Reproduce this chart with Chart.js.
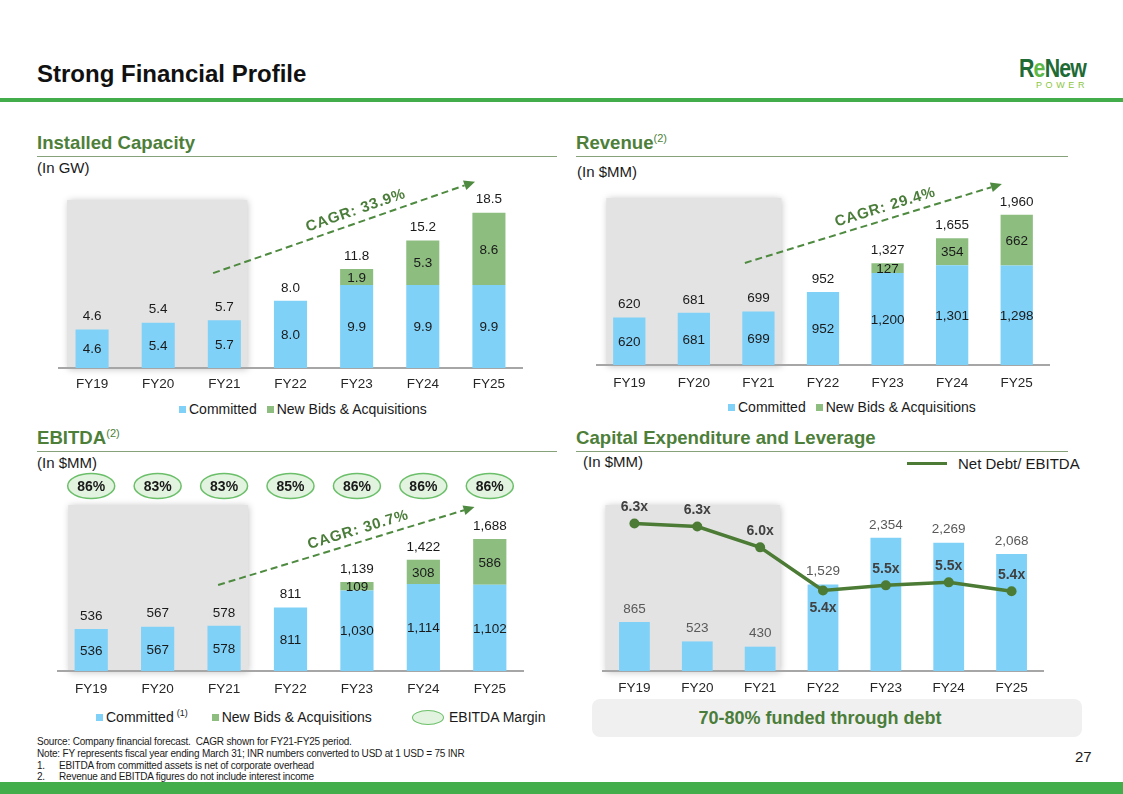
<!DOCTYPE html>
<html><head><meta charset="utf-8">
<script src="https://cdn.jsdelivr.net/npm/chart.js@4.4.1/dist/chart.umd.min.js"></script>
<style>
body{margin:0;background:#fff}
#page{position:relative;width:1123px;height:794px;background:#fff;font-family:'Liberation Sans',Arial,sans-serif;color:#1a1a1a;overflow:hidden}
.abs{position:absolute;white-space:nowrap}
canvas{position:absolute}
.sec{font-size:18.6px;font-weight:bold;color:#4d7f3a;line-height:22px}
.sec sup{font-size:11px;font-weight:normal;vertical-align:7px;line-height:0}
.rule{position:absolute;height:1px;background:#86a27a}
.unit{font-size:15px;line-height:16px}
.leg{font-size:14px;line-height:16px}
.sq{display:inline-block;width:7px;height:7px;margin-right:3px;vertical-align:1px}
.foot{font-size:10px;line-height:12px;color:#1a1a1a;letter-spacing:-0.2px}
</style></head>
<body><div id="page">
<div class="abs" style="left:37px;top:60px;font-size:24px;line-height:28px;font-weight:bold;color:#111">Strong Financial Profile</div>
<div class="abs" style="left:1019px;top:54px;font-size:26px;line-height:28px;font-weight:bold;color:#1f6b36;letter-spacing:-1px;transform:scaleX(0.82);transform-origin:left">R<span style="color:#5cb947">e</span>New</div>
<div class="abs" style="left:1036px;top:80px;font-size:9px;line-height:10px;color:#8cc63f;letter-spacing:3.6px">POWER</div>
<div style="position:absolute;left:0;top:98px;width:1123px;height:4px;background:#43ad4c"></div>

<div class="abs sec" style="left:37px;top:132px">Installed Capacity</div>
<div class="rule" style="left:37px;top:156px;width:520px"></div>
<div class="abs unit" style="left:37px;top:160px">(In GW)</div>

<div class="abs sec" style="left:576px;top:132px">Revenue<sup>(2)</sup></div>
<div class="rule" style="left:576px;top:156px;width:492px"></div>
<div class="abs unit" style="left:577px;top:164px">(In $MM)</div>

<div class="abs sec" style="left:37px;top:427px">EBITDA<sup>(2)</sup></div>
<div class="rule" style="left:37px;top:451px;width:520px"></div>
<div class="abs unit" style="left:37px;top:455px">(In $MM)</div>

<div class="abs sec" style="left:576px;top:427px">Capital Expenditure and Leverage</div>
<div class="rule" style="left:576px;top:451px;width:492px"></div>
<div class="abs unit" style="left:583px;top:454px">(In $MM)</div>

<canvas id="c1" width="487" height="228" style="left:47px;top:170px"></canvas>
<canvas id="c2" width="476" height="225" style="left:585px;top:170px"></canvas>
<canvas id="c3" width="489" height="235" style="left:46px;top:466px"></canvas>
<canvas id="c4" width="464" height="216" style="left:591px;top:485px"></canvas>

<div class="abs leg" style="left:179px;top:401px"><span class="sq" style="background:#80d1f8"></span>Committed<span style="display:inline-block;width:10px"></span><span class="sq" style="background:#8dbe80"></span>New Bids &amp; Acquisitions</div>
<div class="abs leg" style="left:728px;top:399px"><span class="sq" style="background:#80d1f8"></span>Committed<span style="display:inline-block;width:10px"></span><span class="sq" style="background:#8dbe80"></span>New Bids &amp; Acquisitions</div>
<div class="abs leg" style="left:96px;top:709px"><span class="sq" style="background:#80d1f8"></span>Committed<sup style="font-size:9px;vertical-align:6px;line-height:0;margin-left:3px">(1)</sup><span style="display:inline-block;width:24px"></span><span class="sq" style="background:#8dbe80"></span>New Bids &amp; Acquisitions</div>
<div style="position:absolute;left:412px;top:710px;width:30px;height:13px;border:1.5px solid #6cbf6a;border-radius:50%;background:#e2f4df"></div>
<div class="abs leg" style="left:449px;top:709px">EBITDA Margin</div>
<div style="position:absolute;left:907px;top:462px;width:40px;height:3px;background:#4b7b34"></div>
<div class="abs" style="left:958px;top:455px;font-size:15px;line-height:18px">Net Debt/ EBITDA</div>

<div style="position:absolute;left:592px;top:699px;width:490px;height:38px;border-radius:8px;background:#f0f0f0"></div>
<div class="abs" style="left:620px;top:707px;width:400px;text-align:center;font-size:18px;line-height:22px;font-weight:bold;color:#4b7d3a">70-80% funded through debt</div>

<div class="abs foot" style="left:37px;top:736px">Source: Company financial forecast.&nbsp; CAGR shown for FY21-FY25 period.</div>
<div class="abs foot" style="left:37px;top:748px">Note: FY represents fiscal year ending March 31; INR numbers converted to USD at 1 USD = 75 INR</div>
<div class="abs foot" style="left:37px;top:760px">1.</div><div class="abs foot" style="left:59px;top:760px">EBITDA from committed assets is net of corporate overhead</div>
<div class="abs foot" style="left:37px;top:771px">2.</div><div class="abs foot" style="left:59px;top:771px">Revenue and EBITDA figures do not include interest income</div>
<div class="abs" style="left:1075px;top:748px;font-size:15px;line-height:18px">27</div>
<div style="position:absolute;left:0;top:782px;width:1123px;height:12px;background:#43ad4c"></div>
</div>
<script>
const years = ['FY19','FY20','FY21','FY22','FY23','FY24','FY25'];
const capCommitted = [4.6,5.4,5.7,8.0,9.9,9.9,9.9];
const capNew = [0,0,0,0,1.9,5.3,8.6];
const revCommitted = [620,681,699,952,1200,1301,1298];
const revNew = [0,0,0,0,127,354,662];
const ebitdaCommitted = [536,567,578,811,1030,1114,1102];
const ebitdaNew = [0,0,0,0,109,308,586];
const ebitdaMargin = [86,83,83,85,86,86,86];
const capex = [865,523,430,1529,2354,2269,2068];
const netDebtEbitda = [6.3,6.26,5.98,5.4,5.47,5.51,5.39];
const cagrCap = 'CAGR: 33.9%';
const cagrRev = 'CAGR: 29.4%';
const cagrEbitda = 'CAGR: 30.7%';

const FAM = "'Liberation Sans', Arial, sans-serif";
Chart.defaults.font.family = FAM;
const BLUE = '#80d1f8', GREEN = '#8dbe80';
const fmt1 = v => v.toFixed(1);
const fmtC = v => String(Math.round(v)).replace(/\B(?=(\d{3})+(?!\d))/g, ',');

const deco = {
  id: 'deco',
  beforeDraw(chart, args, o) {
    if (!o.box) return;
    const x = chart.scales.x, ca = chart.chartArea, ctx = chart.ctx;
    const l = x.getPixelForValue(0) - o.box.l, r = x.getPixelForValue(2) + o.box.r, t = ca.top + o.box.t;
    ctx.save();
    ctx.shadowColor = 'rgba(0,0,0,0.25)'; ctx.shadowBlur = 7; ctx.shadowOffsetX = 1; ctx.shadowOffsetY = 1;
    ctx.fillStyle = '#e3e3e3';
    ctx.fillRect(l, t, r - l, ca.bottom - t);
    ctx.restore();
  },
  afterDatasetsDraw(chart, args, o) {
    const ctx = chart.ctx, ca = chart.chartArea, xs = chart.scales.x, ys = chart.scales.y;
    ctx.save();
    ctx.textAlign = 'center'; ctx.textBaseline = 'middle';
    const barSets = chart.data.datasets.map((d, i) => i).filter(i => chart.data.datasets[i].type !== 'line');
    if (o.inside) {
      ctx.font = '13.5px ' + FAM; ctx.fillStyle = '#1a1a1a';
      barSets.forEach(di => {
        const ds = chart.data.datasets[di], meta = chart.getDatasetMeta(di);
        meta.data.forEach((el, i) => {
          const v = ds.data[i]; if (!v) return;
          ctx.fillText(o.fmt(v), el.x, (el.y + el.base) / 2 + 1);
        });
      });
    }
    if (o.totals) {
      ctx.font = '13.5px ' + FAM; ctx.fillStyle = o.totalColor || '#1a1a1a';
      years.forEach((y, i) => {
        let tot = 0, top = Infinity, x = 0;
        barSets.forEach(di => {
          const v = chart.data.datasets[di].data[i]; const el = chart.getDatasetMeta(di).data[i];
          tot += v; if (v > 0 && el.y < top) { top = el.y; x = el.x; }
        });
        ctx.fillText(o.fmt(tot), x, top - 13);
      });
    }
    if (o.lineLabels) {
      const di = chart.data.datasets.findIndex(d => d.type === 'line');
      const meta = chart.getDatasetMeta(di), ds = chart.data.datasets[di];
      ctx.font = 'bold 14px ' + FAM; ctx.fillStyle = '#404040';
      meta.data.forEach((el, i) => {
        const below = o.lineLabels.below.includes(i);
        ctx.fillText(ds.data[i].toFixed(1) + 'x', el.x, el.y + (below ? 18 : -16));
      });
    }
    if (o.ovals) {
      o.ovals.values.forEach((v, i) => {
        const cx = xs.getPixelForValue(i), cy = ca.top - 14;
        ctx.beginPath(); ctx.ellipse(cx, cy, 23.5, 12.5, 0, 0, Math.PI * 2);
        ctx.fillStyle = '#e2f4df'; ctx.fill();
        ctx.lineWidth = 1.5; ctx.strokeStyle = '#6cbf6a'; ctx.stroke();
        ctx.font = 'bold 14px ' + FAM; ctx.fillStyle = '#1a1a1a';
        ctx.fillText(v + '%', cx, cy + 1);
      });
    }
    if (o.arrow) {
      const a = o.arrow;
      const x1 = xs.getPixelForValue(a.from[0]), y1 = ys.getPixelForValue(a.from[1]);
      const x2 = xs.getPixelForValue(a.to[0]), y2 = ys.getPixelForValue(a.to[1]);
      const ang = Math.atan2(y2 - y1, x2 - x1);
      const hl = 11, hw = 5;
      const ex = x2 - Math.cos(ang) * hl, ey = y2 - Math.sin(ang) * hl;
      ctx.strokeStyle = '#4e8a3f'; ctx.fillStyle = '#4e8a3f'; ctx.lineWidth = 2;
      ctx.setLineDash([7, 4]);
      ctx.beginPath(); ctx.moveTo(x1, y1); ctx.lineTo(ex, ey); ctx.stroke();
      ctx.setLineDash([]);
      ctx.beginPath(); ctx.moveTo(x2, y2);
      ctx.lineTo(ex + Math.sin(ang) * hw, ey - Math.cos(ang) * hw);
      ctx.lineTo(ex - Math.sin(ang) * hw, ey + Math.cos(ang) * hw);
      ctx.closePath(); ctx.fill();
      const t = 0.56;
      const mx = x1 + (x2 - x1) * t + Math.sin(ang) * 12, my = y1 + (y2 - y1) * t - Math.cos(ang) * 12;
      ctx.translate(mx, my); ctx.rotate(ang);
      ctx.font = 'bold 15px ' + FAM; ctx.fillStyle = '#4b7d3a';
      try { ctx.letterSpacing = '0.8px'; } catch (e) {}
      ctx.fillText(a.text, 0, 0);
    }
    ctx.restore();
  }
};

function opts(ymax, padTop, tickPad, decoOpts, extraScales) {
  const o = {
    responsive: false, animation: false,
    layout: { padding: { top: padTop, left: 12, right: 12 } },
    plugins: { legend: { display: false }, tooltip: { enabled: false }, deco: decoOpts },
    scales: {
      x: { stacked: true, grid: { display: false, drawTicks: false },
           border: { display: true, color: '#a6a6a6', width: 2 },
           ticks: { color: '#262626', font: { size: 13.5 }, padding: tickPad },
           afterFit(s) { s.height = 30; } },
      y: { stacked: true, display: false, min: 0, max: ymax }
    }
  };
  Object.assign(o.scales, extraScales || {});
  return o;
}
const barDs = (label, data, color) => ({ type: 'bar', label, data, backgroundColor: color, categoryPercentage: 1, barPercentage: 0.5, order: 1 });

new Chart(document.getElementById('c1'), {
  type: 'bar',
  data: { labels: years, datasets: [barDs('Committed', capCommitted, BLUE), barDs('New Bids & Acquisitions', capNew, GREEN)] },
  options: opts(23, 5, 8, { box: { l: 25, r: 23, t: 25 }, inside: true, totals: true, fmt: fmt1,
    arrow: { from: [1.83, 11.3], to: [5.79, 22.2], text: cagrCap } }),
  plugins: [deco]
});
new Chart(document.getElementById('c2'), {
  type: 'bar',
  data: { labels: years, datasets: [barDs('Committed', revCommitted, BLUE), barDs('New Bids & Acquisitions', revNew, GREEN)] },
  options: opts(2480, 5, 10, { box: { l: 23, r: 23, t: 23 }, inside: true, totals: true, fmt: fmtC,
    arrow: { from: [1.79, 1332], to: [5.77, 2363], text: cagrRev } }),
  plugins: [deco]
});
new Chart(document.getElementById('c3'), {
  type: 'bar',
  data: { labels: years, datasets: [barDs('Committed', ebitdaCommitted, BLUE), barDs('New Bids & Acquisitions', ebitdaNew, GREEN)] },
  options: opts(2187, 34, 10, { box: { l: 23, r: 24, t: 5 }, inside: true, totals: true, fmt: fmtC,
    ovals: { values: ebitdaMargin },
    arrow: { from: [1.91, 1100], to: [5.77, 2097], text: cagrEbitda } }),
  plugins: [deco]
});
const c4 = {
  type: 'bar',
  data: { labels: years, datasets: [
    { type: 'line', label: 'Net Debt/ EBITDA', data: netDebtEbitda, yAxisID: 'y2', borderColor: '#4b7b34', backgroundColor: '#4b7b34',
      borderWidth: 3.5, pointRadius: 5, pointBackgroundColor: '#4b7b34', pointBorderWidth: 0, tension: 0, order: 0 },
    { type: 'bar', label: 'Capex', data: capex, backgroundColor: BLUE, categoryPercentage: 1, barPercentage: 0.49, order: 1 }
  ] },
  options: opts(3200, 5, 9, { box: { l: 29, r: 20, t: 15 }, totals: true, totalColor: '#595959', fmt: fmtC,
    lineLabels: { below: [3] } }, { y2: { display: false, min: 4.32, max: 6.75 } }),
  plugins: [deco]
};
c4.options.scales.x.stacked = false; c4.options.scales.y.stacked = false;
new Chart(document.getElementById('c4'), c4);
</script>
</body></html>
